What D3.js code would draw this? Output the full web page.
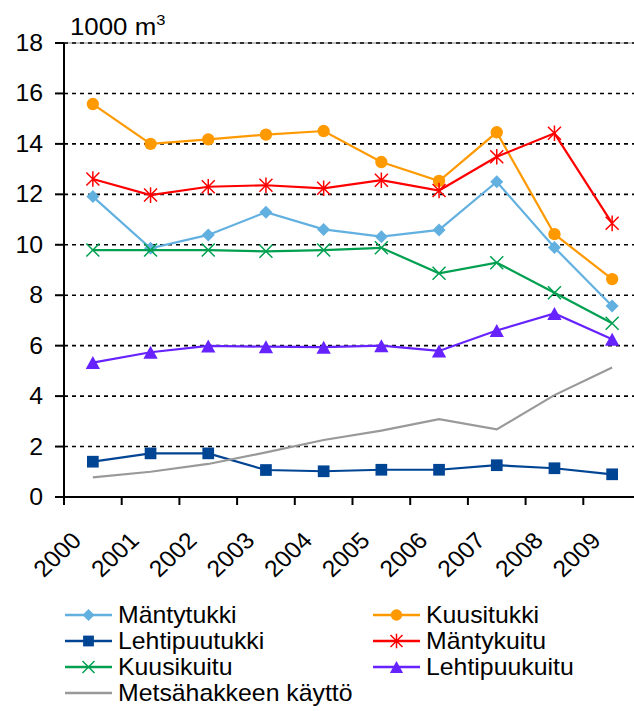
<!DOCTYPE html>
<html>
<head>
<meta charset="utf-8">
<script src="https://cdn.jsdelivr.net/npm/d3@7"></script>
<style>
  body { margin: 0; background: #fff; }
  text { font-family: "Liberation Sans", Arial, sans-serif; fill: #000; }
</style>
</head>
<body>
<div id="chart"></div>
<script>
// data (1000 m3)
const years = ["2000","2001","2002","2003","2004","2005","2006","2007","2008","2009"]
const mantytukki = [11.91, 9.86, 10.39, 11.29, 10.61, 10.32, 10.59, 12.50, 9.89, 7.57]
const kuusitukki = [15.58, 14.0, 14.18, 14.37, 14.51, 13.28, 12.53, 14.46, 10.42, 8.64]
const lehtipuutukki = [1.40, 1.73, 1.73, 1.07, 1.02, 1.08, 1.08, 1.26, 1.14, 0.90]
const mantykuitu = [12.61, 11.97, 12.30, 12.36, 12.24, 12.56, 12.15, 13.49, 14.42, 10.85]
const kuusikuitu = [9.79, 9.79, 9.79, 9.74, 9.79, 9.88, 8.87, 9.29, 8.10, 6.89]
const lehtipuukuitu = [5.33, 5.74, 5.99, 5.96, 5.94, 6.0, 5.79, 6.60, 7.28, 6.25]
const metsahake = [0.78, 1.0, 1.31, 1.77, 2.26, 2.63, 3.09, 2.68, 4.04, 5.13]
const yTicks = [0, 2, 4, 6, 8, 10, 12, 14, 16, 18]

const series = [
  {name: "Mäntytukki", values: mantytukki, color: "#62B0E0", marker: "diamond"},
  {name: "Kuusitukki", values: kuusitukki, color: "#FF9900", marker: "circle"},
  {name: "Lehtipuutukki", values: lehtipuutukki, color: "#004494", marker: "square"},
  {name: "Mäntykuitu", values: mantykuitu, color: "#FF0000", marker: "star"},
  {name: "Kuusikuitu", values: kuusikuitu, color: "#00A050", marker: "x"},
  {name: "Lehtipuukuitu", values: lehtipuukuitu, color: "#6622FF", marker: "triangle"},
  {name: "Metsähakkeen käyttö", values: metsahake, color: "#999999", marker: null}
]

const width = 634
const height = 711
const plotLeft = 64, plotTop = 43, plotBottom = 497
const bandW = 57.7
const fontSize = 23
const stretch = 1.08   // text in the picture is a bit wide

const x = d3.scaleBand().domain(years).range([plotLeft, plotLeft + bandW * years.length])
const y = d3.scaleLinear().domain([0, 18]).range([plotBottom, plotTop])

const svg = d3.select("#chart").append("svg")
  .attr("width", width)
  .attr("height", height)

// thin frame line on top of plot
svg.append("line")
  .attr("x1", plotLeft).attr("x2", x.range()[1]).attr("y1", y(18)).attr("y2", y(18))
  .attr("stroke", "#888").attr("stroke-width", 1)

// grid lines
svg.append("g").selectAll("line")
  .data(yTicks.filter(d => d > 0))
  .enter().append("line")
  .attr("x1", plotLeft).attr("x2", x.range()[1])
  .attr("y1", d => y(d)).attr("y2", d => y(d))
  .attr("stroke", "#000").attr("stroke-width", 1.6)
  .attr("stroke-dasharray", "4,4")

// y axis
svg.append("line")
  .attr("x1", plotLeft).attr("x2", plotLeft).attr("y1", plotTop).attr("y2", plotBottom + 8)
  .attr("stroke", "#000").attr("stroke-width", 2)
svg.append("g").selectAll("line")
  .data(yTicks)
  .enter().append("line")
  .attr("x1", plotLeft - 9).attr("x2", plotLeft)
  .attr("y1", d => y(d)).attr("y2", d => y(d))
  .attr("stroke", "#000").attr("stroke-width", 2)
svg.append("g").selectAll("text")
  .data(yTicks)
  .enter().append("text")
  .attr("transform", d => `translate(${plotLeft - 21},${y(d) + 8}) scale(${stretch},1)`)
  .attr("text-anchor", "end")
  .style("font-size", fontSize + "px")
  .text(d => d)

// unit label
const unit = svg.append("text")
  .attr("transform", `translate(70,35) scale(1.1,1)`)
  .style("font-size", "23.5px")
unit.append("tspan").text("1000 m")
unit.append("tspan").attr("dy", -10).style("font-size", "15px").text("3")

// x axis
svg.append("line")
  .attr("x1", plotLeft).attr("x2", x.range()[1]).attr("y1", plotBottom).attr("y2", plotBottom)
  .attr("stroke", "#000").attr("stroke-width", 2)
svg.append("g").selectAll("line")
  .data(years.slice(1))
  .enter().append("line")
  .attr("x1", d => x(d)).attr("x2", d => x(d))
  .attr("y1", plotBottom).attr("y2", plotBottom + 8)
  .attr("stroke", "#000").attr("stroke-width", 2)
svg.append("g").selectAll("text")
  .data(years)
  .enter().append("text")
  .attr("transform", d => `translate(${x(d) + bandW / 2 - 10},${plotBottom + 45}) scale(${stretch},1) rotate(-45)`)
  .attr("text-anchor", "end")
  .style("font-size", fontSize + "px")
  .text(d => d)

// markers
function drawMarker(g, type, color, s) {
  if (type === "diamond") {
    g.append("path").attr("d", `M0,${-s}L${s},0L0,${s}L${-s},0Z`).attr("fill", color)
  } else if (type === "circle") {
    g.append("circle").attr("r", s * 0.95).attr("fill", color)
  } else if (type === "square") {
    g.append("rect").attr("x", -s * 0.9).attr("y", -s * 0.9)
      .attr("width", s * 1.8).attr("height", s * 1.8).attr("fill", color)
  } else if (type === "triangle") {
    g.append("path").attr("d", `M0,${-s}L${s * 1.1},${s}L${-s * 1.1},${s}Z`).attr("fill", color)
  } else if (type === "x") {
    g.append("path").attr("d", `M${-s},${-s}L${s},${s}M${s},${-s}L${-s},${s}`)
      .attr("stroke", color).attr("stroke-width", 1.5)
  } else if (type === "star") {
    g.append("path").attr("d", `M${-s},${-s}L${s},${s}M${s},${-s}L${-s},${s}M0,${-s * 1.2}L0,${s * 1.2}`)
      .attr("stroke", color).attr("stroke-width", 1.5)
  }
}

const line = d3.line()
  .x((d, i) => x(years[i]) + bandW / 2)
  .y(d => y(d))

series.forEach(s => {
  svg.append("path")
    .datum(s.values)
    .attr("d", line)
    .attr("fill", "none")
    .attr("stroke", s.color)
    .attr("stroke-width", 2.2)
  if (s.marker) {
    s.values.forEach((v, i) => {
      const g = svg.append("g").attr("transform", `translate(${x(years[i]) + bandW / 2},${y(v)})`)
      drawMarker(g, s.marker, s.color, 6.5)
    })
  }
})

// legend: two columns
const legendRows = 26
series.forEach((s, i) => {
  const col = i % 2, row = Math.floor(i / 2)
  const lx = col === 0 ? 65 : 373
  const ly = 615 + row * legendRows
  const g = svg.append("g").attr("transform", `translate(${lx},${ly})`)
  g.append("line").attr("x1", 0).attr("x2", 47).attr("y1", 0).attr("y2", 0)
    .attr("stroke", s.color).attr("stroke-width", 2.5)
  if (s.marker) {
    const m = g.append("g").attr("transform", "translate(23.5,0)")
    drawMarker(m, s.marker, s.color, 6)
  }
  g.append("text")
    .attr("transform", `translate(53,8) scale(${stretch},1)`)
    .style("font-size", fontSize + "px")
    .text(s.name)
})
</script>
</body>
</html>
